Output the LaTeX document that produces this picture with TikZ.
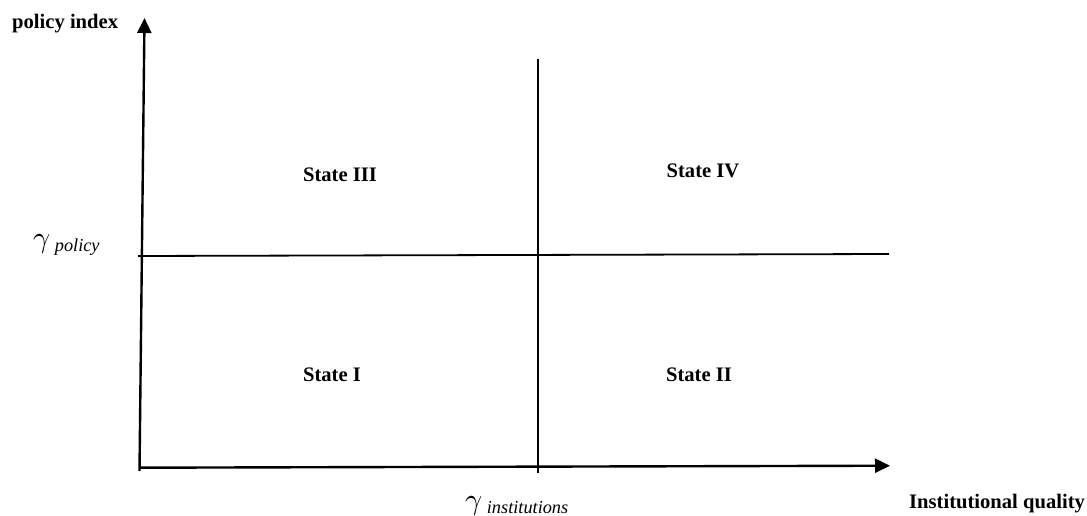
\documentclass[tikz,border=0pt]{standalone}
\usepackage{fontspec}
\setmainfont{Liberation Serif}
\usetikzlibrary{arrows.meta}
\tikzset{
  axis/.style={line width=2.4pt, -{Triangle[length=15pt,width=14pt]}},
  divider/.style={line width=1.8pt},
  statelbl/.style={font=\fontsize{20.6}{24}\selectfont\bfseries, anchor=base, inner sep=0pt},
  axislbl/.style={font=\fontsize{20.6}{24}\selectfont\bfseries, anchor=base west, inner sep=0pt},
  gammalbl/.style={anchor=base west, inner sep=0pt}
}
\newcommand{\gammasub}[1]{\scalebox{3.0}{$\gamma$}\hspace{4.5pt}\raisebox{-4.5pt}{\fontsize{18.3}{22}\selectfont\itshape #1}}
\begin{document}
\begin{tikzpicture}[x=1pt,y=-1pt]
\useasboundingbox (0,0) rectangle (1087,516);
% anchor coordinates
\coordinate (yb) at (139.5,471);
\coordinate (yt) at (144.5,18);
\coordinate (xl) at (139,467.7);
\coordinate (xr) at (890,465.7);
\coordinate (mt) at (538,59);
\coordinate (mb) at (538,473);
\coordinate (pl) at (138,256);
\coordinate (pr) at (889,254);
% lines
\draw[divider] (mt) -- (mb);
\draw[divider] (pl) -- (pr);
\draw[axis] (yb) -- (yt);
\draw[axis] (xl) -- (xr);
% labels
\node[axislbl] (py) at (12,29) {policy index};
\node[axislbl] (iq) at (909,508) {Institutional quality};
\node[gammalbl] (gp) at (33,247) {\gammasub{policy}};
\node[gammalbl] (gi) at (465,509) {\gammasub{institutions}};
\node[statelbl] (s3) at (340,181) {State III};
\node[statelbl] (s4) at (703,178) {State IV};
\node[statelbl] (s1) at (332,381) {State I};
\node[statelbl] (s2) at (699,381) {State II};
\end{tikzpicture}
\end{document}
